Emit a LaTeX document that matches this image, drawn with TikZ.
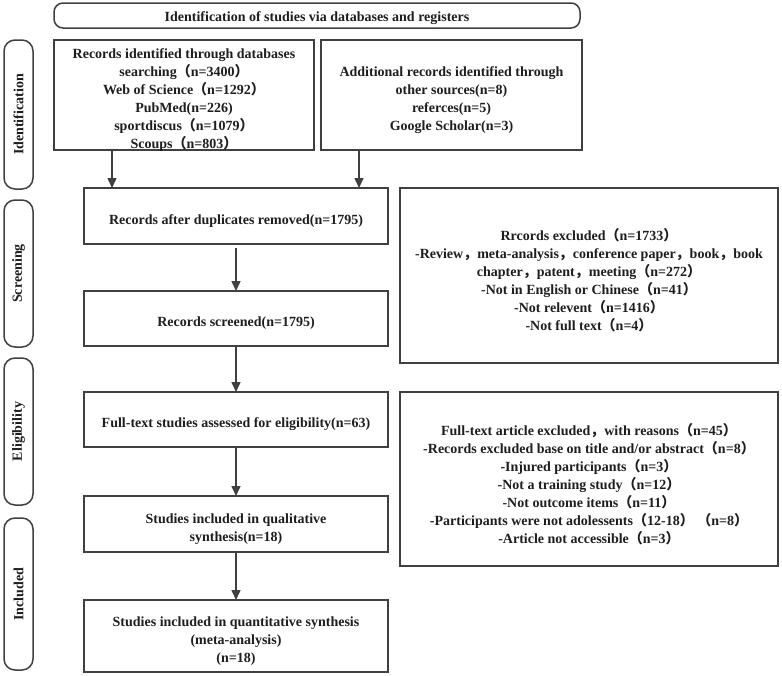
\documentclass[tikz,border=0pt]{standalone}
\usepackage{fontspec}
\setmainfont{Liberation Serif}
\newfontfamily\cjk{Noto Sans CJK SC}
\usetikzlibrary{arrows.meta}
\newcommand\LP{{\cjk （}}
\newcommand\RP{{\cjk ）}}
\newcommand\CM{{\cjk ，}}
\definecolor{linec}{HTML}{404040}
\definecolor{textc}{HTML}{1E1E1E}
\tikzset{
  txt/.style={text=textc, align=center, inner sep=0pt, font=\fontsize{14}{18}\selectfont\bfseries},
  base/.style={draw=linec, line width=1.5pt, txt, inner sep=2pt, outer sep=0pt},
  box/.style={base},
  boxtext/.style={txt, yshift=-5pt},
  phase/.style={base, rounded corners=11pt, rotate=90},
  banner/.style={base, rounded corners=9pt},
  arr/.style={draw=linec, line width=1.5pt, -{Triangle[length=10pt,width=9pt]}},
}
\begin{document}
\begin{tikzpicture}[x=1pt,y=-1pt]
\useasboundingbox[fill=white] (0,0) rectangle (782,675);
% banner
\node[banner, minimum width=526pt, minimum height=25pt,
  label={[boxtext, yshift=2pt]center:Identification of studies via databases and registers}] (ban) at (317,15.5) {};
% phases
\node[phase, minimum width=149pt, minimum height=29pt] (pid) at (18.5,114.5) {Identification};
\node[phase, minimum width=147pt, minimum height=29pt] (pscr) at (18.5,273.5) {Screening};
\node[phase, minimum width=147pt, minimum height=29pt] (pel) at (18.5,431.5) {Eligibility};
\node[phase, minimum width=152pt, minimum height=29pt] (pinc) at (18.5,594) {Included};
% boxes
\node[box, minimum width=260pt, minimum height=110pt,
  label={[boxtext]center:{Records identified through databases\\ searching\LP n=3400\RP\\ Web of Science\LP n=1292\RP\\ PubMed(n=226)\\ sportdiscus\LP n=1079\RP\\ Scoups\LP n=803\RP}}] (rec) at (184,95) {};
\node[box, minimum width=261pt, minimum height=110pt,
  label={[boxtext]center:{Additional records identified through\\ other sources(n=8)\\ referces(n=5)\\ Google Scholar(n=3)}}] (add) at (451.5,95) {};
\node[box, minimum width=304pt, minimum height=56pt,
  label={[boxtext]center:{Records after duplicates removed(n=1795)}}] (dup) at (236,216) {};
\node[box, minimum width=378pt, minimum height=175pt,
  label={[boxtext]center:{Rrcords excluded\LP n=1733\RP\\ -Review\CM meta-analysis\CM conference paper\CM book\CM book\\ chapter\CM patent\CM meeting\LP n=272\RP\\ -Not in English or Chinese\LP n=41\RP\\ -Not relevent\LP n=1416\RP\\ -Not full text\LP n=4\RP}}] (exa) at (589,275.5) {};
\node[box, minimum width=304pt, minimum height=55pt,
  label={[boxtext]center:{Records screened(n=1795)}}] (scr) at (236,318.5) {};
\node[box, minimum width=304pt, minimum height=55pt,
  label={[boxtext]center:{Full-text studies assessed for eligibility(n=63)}}] (full) at (236,419.5) {};
\node[box, minimum width=378pt, minimum height=174pt,
  label={[boxtext]center:{Full-text article excluded\CM with reasons\LP n=45\RP\\ -Records excluded base on title and/or abstract\LP n=8\RP\\ -Injured participants\LP n=3\RP\\ -Not a training study\LP n=12\RP\\ -Not outcome items\LP n=11\RP\\ -Participants were not adolessents\LP 12-18\RP\ \LP n=8\RP\\ -Article not accessible\LP n=3\RP}}] (exb) at (589,479) {};
\node[box, minimum width=304pt, minimum height=56pt,
  label={[boxtext]center:{Studies included in qualitative\\ synthesis(n=18)}}] (qual) at (236,524) {};
\node[box, minimum width=304pt, minimum height=72pt,
  label={[boxtext]center:{Studies included in quantitative synthesis\\ (meta-analysis)\\ (n=18)}}] (quant) at (236,636) {};
% arrows
\draw[arr] ([xshift=28pt]dup.north west |- rec.south) -- ([xshift=28pt]dup.north west);
\draw[arr] ([xshift=-29pt]dup.north east |- add.south) -- ([xshift=-29pt]dup.north east);
\draw[arr, shorten <=4pt] (dup) -- (scr);
\draw[arr] (scr) -- (full);
\draw[arr] (full) -- (qual);
\draw[arr] (qual) -- (quant);
\end{tikzpicture}
\end{document}
